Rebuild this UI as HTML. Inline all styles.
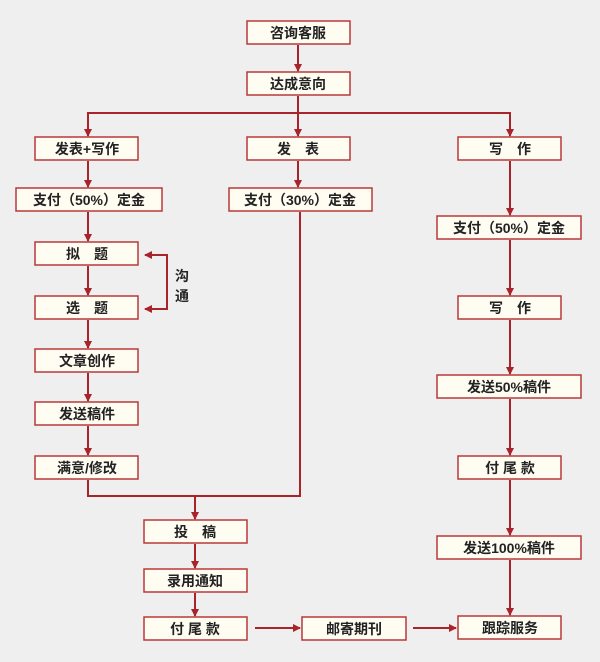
<!DOCTYPE html>
<html><head><meta charset="utf-8"><style>
html,body{margin:0;padding:0;background:#efefef;}
svg{display:block}
text{font-family:"Liberation Sans","Noto Sans CJK SC",sans-serif;font-size:14px;font-weight:bold;fill:#222;text-anchor:middle;dominant-baseline:central}
.b{fill:#fffdf2;stroke:#b8383a;stroke-width:1.5}
.l{stroke:#a8242a;stroke-width:2;fill:none}
.a{fill:#a8242a}
</style></head><body>
<svg width="600" height="662" viewBox="0 0 600 662">
<defs><marker id="m" markerWidth="8" markerHeight="8" refX="7" refY="4" orient="auto" markerUnits="userSpaceOnUse"><path d="M0,0 L8,4 L0,8 z" class="a"/></marker></defs>
<g class="l" marker-end="url(#m)">
<line x1="298" y1="45" x2="298" y2="71"/>
<line x1="298" y1="96" x2="298" y2="136"/>
<polyline points="88,136 88,113 510,113 510,136" marker-end="none"/>
<line x1="88" y1="113" x2="88" y2="136"/>
<line x1="510" y1="113" x2="510" y2="136"/>
<line x1="88" y1="161" x2="88" y2="187"/>
<line x1="298" y1="161" x2="298" y2="187"/>
<line x1="510" y1="161" x2="510" y2="215"/>
<line x1="88" y1="212" x2="88" y2="241"/>
<line x1="88" y1="266" x2="88" y2="295"/>
<line x1="88" y1="320" x2="88" y2="348"/>
<line x1="88" y1="373" x2="88" y2="401"/>
<line x1="88" y1="426" x2="88" y2="455"/>
<polyline points="167,255 145,255" />
<polyline points="145,255 167,255 167,309 145,309"/>
<polyline points="88,480 88,496 300,496 300,212" marker-end="none"/>
<line x1="195" y1="496" x2="195" y2="519"/>
<line x1="195" y1="544" x2="195" y2="568"/>
<line x1="195" y1="593" x2="195" y2="616"/>
<line x1="255" y1="628" x2="300" y2="628"/>
<line x1="413" y1="628" x2="456" y2="628"/>
<line x1="510" y1="240" x2="510" y2="295"/>
<line x1="510" y1="320" x2="510" y2="374"/>
<line x1="510" y1="399" x2="510" y2="455"/>
<line x1="510" y1="480" x2="510" y2="535"/>
<line x1="510" y1="560" x2="510" y2="615"/>
</g>
<g>
<rect class="b" x="247" y="21" width="103" height="23"/><text x="298" y="33">咨询客服</text>
<rect class="b" x="247" y="72" width="103" height="23"/><text x="298" y="84">达成意向</text>
<rect class="b" x="35" y="137" width="103" height="23"/><text x="87" y="149">发表+写作</text>
<rect class="b" x="247" y="137" width="103" height="23"/><text x="298" y="149">发　表</text>
<rect class="b" x="458" y="137" width="103" height="23"/><text x="510" y="149">写　作</text>
<rect class="b" x="16" y="188" width="146" height="23"/><text x="89" y="200">支付（50%）定金</text>
<rect class="b" x="229" y="188" width="143" height="23"/><text x="300" y="200">支付（30%）定金</text>
<rect class="b" x="35" y="242" width="103" height="23"/><text x="87" y="254">拟　题</text>
<rect class="b" x="35" y="296" width="103" height="23"/><text x="87" y="308">选　题</text>
<rect class="b" x="35" y="349" width="103" height="23"/><text x="87" y="361">文章创作</text>
<rect class="b" x="35" y="402" width="103" height="23"/><text x="87" y="414">发送稿件</text>
<rect class="b" x="35" y="456" width="103" height="23"/><text x="87" y="468">满意/修改</text>
<rect class="b" x="144" y="520" width="103" height="23"/><text x="195" y="532">投　稿</text>
<rect class="b" x="144" y="569" width="103" height="23"/><text x="195" y="581">录用通知</text>
<rect class="b" x="144" y="617" width="103" height="23"/><text x="195" y="629">付 尾 款</text>
<rect class="b" x="302" y="617" width="104" height="23"/><text x="354" y="629">邮寄期刊</text>
<rect class="b" x="458" y="616" width="103" height="23"/><text x="510" y="628">跟踪服务</text>
<rect class="b" x="437" y="216" width="144" height="23"/><text x="509" y="228">支付（50%）定金</text>
<rect class="b" x="458" y="296" width="103" height="23"/><text x="510" y="308">写　作</text>
<rect class="b" x="437" y="375" width="144" height="23"/><text x="509" y="387">发送50%稿件</text>
<rect class="b" x="458" y="456" width="103" height="23"/><text x="510" y="468">付 尾 款</text>
<rect class="b" x="437" y="536" width="144" height="23"/><text x="509" y="548">发送100%稿件</text>
<text x="182" y="276">沟</text><text x="182" y="296">通</text>
</g>
</svg>
</body></html>
